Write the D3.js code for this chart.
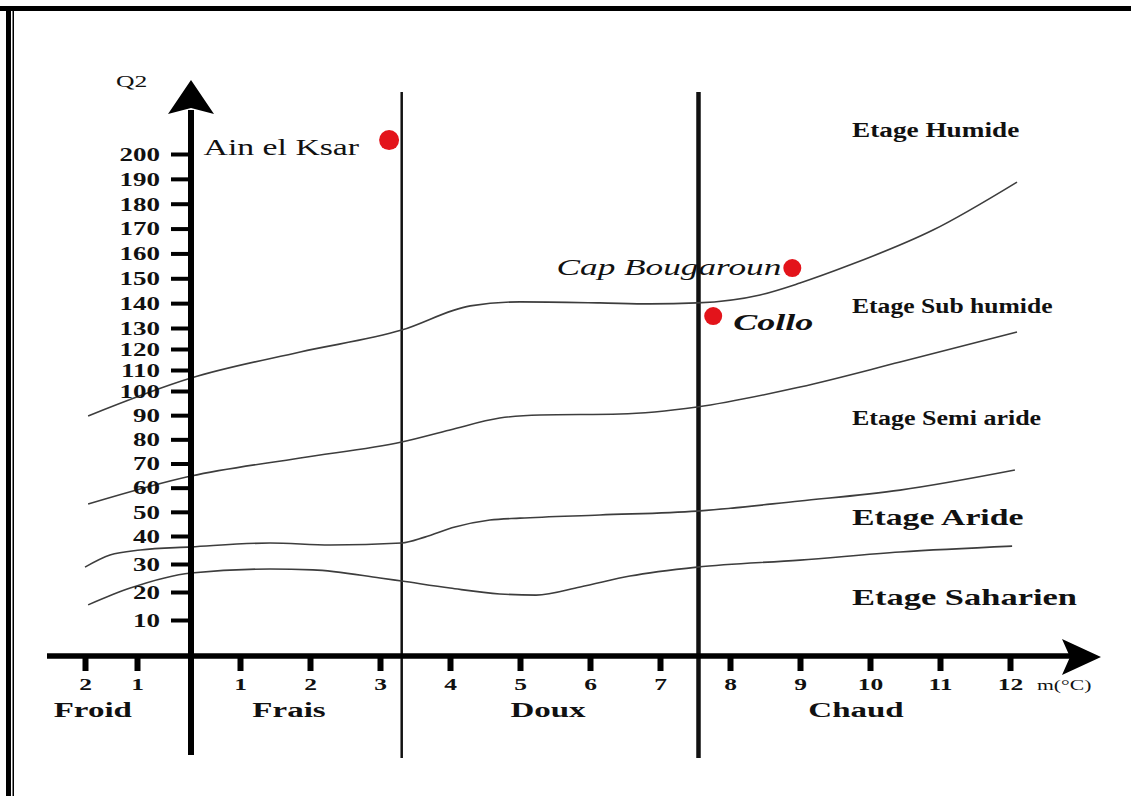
<!DOCTYPE html>
<html>
<head>
<meta charset="utf-8">
<script src="https://cdn.jsdelivr.net/npm/d3@7"></script>
<style>
  body { margin: 0; background: #fff; }
  svg { display: block; }
  text { font-family: "Liberation Serif", "Times New Roman", serif; fill: #111; }
</style>
</head>
<body>
<svg id="chart" width="1131" height="796"></svg>
<script>
// Emberger climagram: pluviothermic quotient Q2 against m (mean minimum of the coldest month, °C)

const xTickValues = [-2, -1, 1, 2, 3, 4, 5, 6, 7, 8, 9, 10, 11, 12];
const xTickLabels = ["2", "1", "1", "2", "3", "4", "5", "6", "7", "8", "9", "10", "11", "12"];
const yTickValues = [10, 20, 30, 40, 50, 60, 70, 80, 90, 100, 110, 120, 130, 140, 150, 160, 170, 180, 190, 200];

// winter variants and their limits along m
const thermalZones = ["Froid", "Frais", "Doux", "Chaud"];
const zoneLabelM = [-1.85, 1.7, 5.4, 9.8];
const zoneLimitsM = [3.31, 7.55];

// bioclimatic stages
const stageNames = ["Etage Humide", "Etage Sub humide", "Etage Semi aride", "Etage Aride", "Etage Saharien"];
const stageLabelQ2 = [207, 136, 86, 44.5, 15.4];

// limits between stages
const humidLimitM  = [-1.94, 0, 1.86, 3.31, 4.29, 5, 6.14, 6.86, 7.53, 8.43, 9, 9.71, 10.9, 12.1];
const humidLimitQ2 = [89.7, 106.2, 118.6, 129, 138.9, 140.5, 140.1, 139.7, 140.1, 143.3, 148.1, 155.3, 169.4, 188.7];

const subHumidLimitM  = [-1.94, 0, 1.86, 3.31, 4, 4.71, 5.29, 6.43, 7.53, 9, 10.43, 12.1];
const subHumidLimitQ2 = [53.2, 64.8, 72.3, 78.9, 83.9, 88.8, 90.1, 90.5, 93.4, 101.9, 113.8, 128.1];

const semiAridLimitM  = [-2, -1.52, -0.94, 0, 1.43, 2.29, 3.31, 3.64, 4.07, 4.57, 5, 6.14, 7.53, 9, 10.43, 12.07];
const semiAridLimitQ2 = [28.9, 33.2, 35, 36.1, 37.5, 36.8, 37.5, 39.6, 43.7, 46.6, 47.4, 48.7, 50.3, 54.5, 59, 67.3];

const aridLimitM  = [-1.94, -1.13, 0, 1.43, 2.04, 3, 3.31, 4, 4.71, 5.23, 5.86, 6.57, 7.53, 9, 10.43, 12.03];
const aridLimitQ2 = [15.4, 21.4, 26.8, 28.2, 27.9, 25, 23.9, 21.4, 19.3, 18.9, 21.8, 25.7, 28.9, 31.4, 34.3, 36.4];

// stations
const stationNames = ["Ain el Ksar", "Cap Bougaroun", "Collo"];
const stationM  = [3.13, 8.89, 7.76];
const stationQ2 = [205.6, 154.1, 134.8];

// ---------------------------------------------------------------------------
const svg = d3.select("#chart");
const W = 1131, H = 796;
const SX = 1.5;                 // horizontal stretch of all lettering
const serif = '"Liberation Serif", "Times New Roman", serif';

svg.append("rect").attr("width", W).attr("height", H).attr("fill", "#fff");

// page frame: heavy rule on top, double rule on the left
svg.append("rect").attr("x", 0).attr("y", 6).attr("width", W).attr("height", 5).attr("fill", "#000");
svg.append("rect").attr("x", 6).attr("y", 6).attr("width", 5).attr("height", H - 6).attr("fill", "#000");
svg.append("rect").attr("x", 12.5).attr("y", 11).attr("width", 1.5).attr("height", H - 11).attr("fill", "#000");

// scales (hand-drawn graduations, hence piecewise)
const x = d3.scaleLinear().domain([-2, -1, 0, 1, 12]).range([85, 137, 191, 240, 1010]);
const y = d3.scaleLinear().domain([10, 40, 100, 130, 200]).range([620, 536, 391, 328, 154]);

const baseY = 656;        // m axis line
const axisBottom = 755;   // lower end of the verticals
const axisTop = 92;

function label(sel, px, py, str, o) {
  return sel.append("text")
    .attr("transform", `translate(${px},${py}) scale(${o.sx || SX},1)`)
    .attr("text-anchor", o.anchor || "start")
    .attr("font-size", o.size)
    .attr("font-weight", o.weight || "normal")
    .attr("font-style", o.style || "normal")
    .text(str);
}

// limits between winter variants
svg.append("g").selectAll("line").data(zoneLimitsM).join("line")
  .attr("x1", d => x(d)).attr("x2", d => x(d))
  .attr("y1", axisTop).attr("y2", axisBottom + 3)
  .attr("stroke", "#111")
  .attr("stroke-width", (d, i) => i === 0 ? 2.5 : 4.5);

// stage limits
const line = d3.line().x(d => x(d[0])).y(d => y(d[1])).curve(d3.curveMonotoneX);
const limits = [
  [humidLimitM, humidLimitQ2],
  [subHumidLimitM, subHumidLimitQ2],
  [semiAridLimitM, semiAridLimitQ2],
  [aridLimitM, aridLimitQ2]
];
svg.append("g").selectAll("path").data(limits).join("path")
  .attr("d", d => line(d[0].map((m, i) => [m, d[1][i]])))
  .attr("fill", "none")
  .attr("stroke", "#3d3d3d")
  .attr("stroke-width", 1.6);

// Q2 axis
const yAxisG = svg.append("g").attr("transform", `translate(${x(0)},0)`)
  .call(d3.axisLeft(y).tickValues(yTickValues).tickSize(20).tickFormat(d3.format("d")));
yAxisG.select(".domain").remove();
yAxisG.selectAll(".tick line").attr("stroke", "#000").attr("stroke-width", 4);
yAxisG.selectAll(".tick text")
  .attr("x", null).attr("dy", "0.35em")
  .attr("transform", `translate(-31,0) scale(${SX},1)`)
  .attr("text-anchor", "end")
  .attr("font-family", serif).attr("font-size", 18).attr("font-weight", "bold").attr("fill", "#111");

svg.append("line")
  .attr("x1", x(0)).attr("x2", x(0)).attr("y1", axisBottom).attr("y2", 110)
  .attr("stroke", "#000").attr("stroke-width", 6);
svg.append("path")
  .attr("d", `M${x(0)},80 L${x(0) + 23},114 L${x(0)},108 L${x(0) - 23},114 Z`)
  .attr("fill", "#000");
label(svg, 116, 87, "Q2", { size: 16, sx: 1.6 });

// m axis
const xAxisG = svg.append("g").attr("transform", `translate(0,${baseY})`)
  .call(d3.axisBottom(x).tickValues(xTickValues).tickSize(15)
    .tickFormat((d, i) => xTickLabels[i]));
xAxisG.select(".domain").remove();
xAxisG.selectAll(".tick line").attr("stroke", "#000").attr("stroke-width", 6);
xAxisG.selectAll(".tick text")
  .attr("y", null).attr("dy", null)
  .attr("transform", `translate(0,34) scale(${SX},1)`)
  .attr("font-family", serif).attr("font-size", 17).attr("font-weight", "bold").attr("fill", "#111");

svg.append("line")
  .attr("x1", 47).attr("x2", 1070).attr("y1", baseY).attr("y2", baseY)
  .attr("stroke", "#000").attr("stroke-width", 5.5);
svg.append("path")
  .attr("d", `M1101,${baseY + 1} L1062,${baseY - 17} L1070,${baseY + 1} L1062,${baseY + 19} Z`)
  .attr("fill", "#000");
label(svg, 1037, 690, "m(°C)", { size: 15.5, sx: 1.4 });

// winter variant names
thermalZones.forEach((t, i) =>
  label(svg, x(zoneLabelM[i]), 717, t, { size: 22, weight: "bold", anchor: "middle" }));

// stage names
const stageStyle = [
  { size: 20.5, sx: 1.33 }, { size: 20, sx: 1.28 }, { size: 20, sx: 1.3 },
  { size: 22.5, sx: 1.5 }, { size: 23, sx: 1.5 }
];
stageNames.forEach((s, i) =>
  label(svg, 852, y(stageLabelQ2[i]), s, { size: stageStyle[i].size, sx: stageStyle[i].sx, weight: "bold" }));

// stations
const stationLabel = [
  { dx: -30, dy: 15, anchor: "end", size: 22.5, weight: "normal", style: "normal" },
  { dx: -11, dy: 7, anchor: "end", size: 23.5, weight: "normal", style: "italic" },
  { dx: 20, dy: 14, anchor: "start", size: 24, weight: "bold", style: "italic" }
];
stationNames.forEach((n, i) => {
  const cx = x(stationM[i]), cy = y(stationQ2[i]);
  svg.append("circle").attr("cx", cx).attr("cy", cy).attr("r", i === 0 ? 10 : 9)
    .attr("fill", "#e3141b");
  const o = stationLabel[i];
  label(svg, cx + o.dx, cy + o.dy, n, o);
});
</script>
</body>
</html>
